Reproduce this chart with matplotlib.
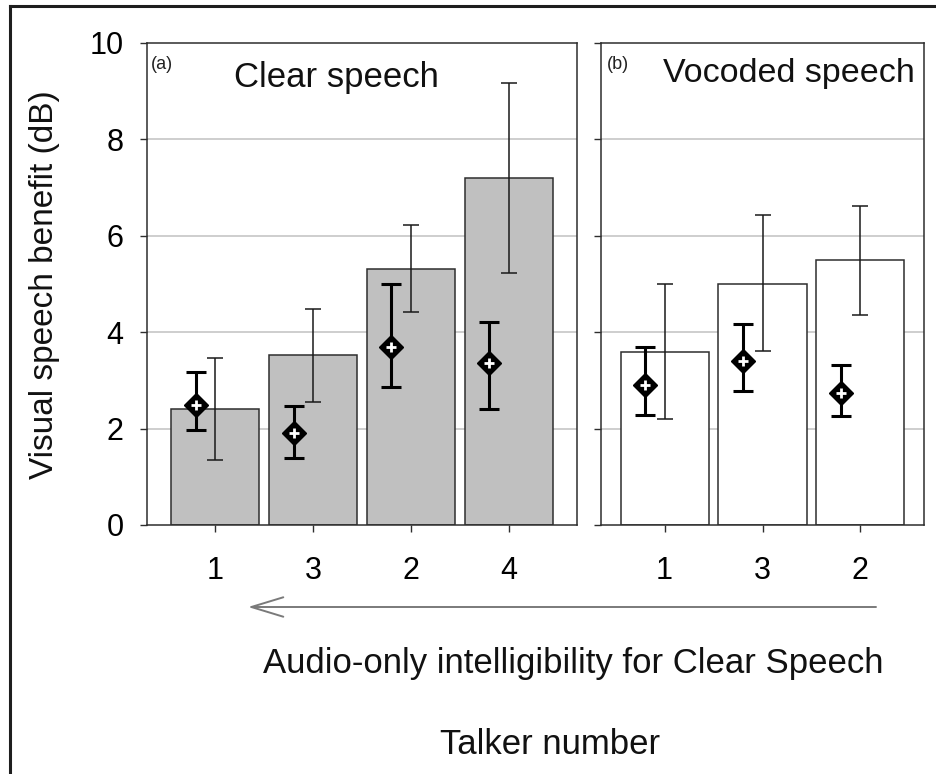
import matplotlib
matplotlib.use("Agg")
import matplotlib.pyplot as plt
from matplotlib.lines import Line2D
from matplotlib.patches import FancyArrowPatch
import numpy as np

plt.rcParams['font.family'] = ['Liberation Sans', 'DejaVu Sans']

# ---------------- data ----------------
clear_talkers = ['1', '3', '2', '4']
clear_bar = [2.40, 3.52, 5.32, 7.19]
clear_bar_lo = [1.34, 2.55, 4.41, 5.22]
clear_bar_hi = [3.46, 4.49, 6.22, 9.17]
clear_pt = [2.50, 1.90, 3.69, 3.37]
clear_pt_lo = [1.98, 1.40, 2.87, 2.41]
clear_pt_hi = [3.17, 2.46, 5.00, 4.21]

voc_talkers = ['1', '3', '2']
voc_bar = [3.59, 5.01, 5.49]
voc_bar_lo = [2.19, 3.61, 4.36]
voc_bar_hi = [5.01, 6.43, 6.62]
voc_pt = [2.90, 3.40, 2.74]
voc_pt_lo = [2.28, 2.78, 2.26]
voc_pt_hi = [3.69, 4.16, 3.31]

yticks = [0, 2, 4, 6, 8, 10]

W, H = 937, 774
fig = plt.figure(figsize=(W / 100, H / 100), dpi=100)


def fx(px):
    return px / W


def fy(py):
    return 1 - py / H


ax_top, ax_bot = 43, 525
axL = fig.add_axes([fx(147), fy(ax_bot), fx(577) - fx(147), (ax_bot - ax_top) / H])
axR = fig.add_axes([fx(601), fy(ax_bot), fx(924) - fx(601), (ax_bot - ax_top) / H])

dark = '#2e2e2e'
grid_c = '#c6c6c6'


def draw_panel(ax, labels, bar, blo, bhi, pt, plo, phi, face, xlim):
    x = np.arange(1, len(labels) + 1)
    ax.set_xlim(*xlim)
    ax.set_ylim(0, 10)
    for g in [2, 4, 6, 8]:
        ax.axhline(g, color=grid_c, lw=1.2, zorder=0)
    ax.bar(x, bar, width=0.9, color=face, edgecolor=dark, linewidth=1.1, zorder=2)
    bar = np.array(bar)
    ax.errorbar(x, bar, yerr=[bar - np.array(blo), np.array(bhi) - bar], fmt='none',
                ecolor='#1a1a1a', elinewidth=1.1, capsize=5.5, capthick=1.1, zorder=3)
    pt = np.array(pt)
    xp = x - 0.2
    ax.errorbar(xp, pt, yerr=[pt - np.array(plo), np.array(phi) - pt], fmt='none',
                ecolor='black', elinewidth=2.2, capsize=7, capthick=2.2, zorder=4)
    ax.plot(xp, pt, linestyle='none', marker='D', ms=12, mfc='black', mec='black',
            mew=1, zorder=5)
    ax.plot(xp, pt, linestyle='none', marker='+', ms=6.5, mec='white', mew=2.0, zorder=6)
    ax.set_xticks(x)
    ax.set_xticklabels(labels)
    ax.set_yticks(yticks)
    for s in ax.spines.values():
        s.set_color(dark)
        s.set_linewidth(1.1)
    ax.tick_params(direction='out', length=5, width=1.0, color=dark)
    ax.tick_params(axis='x', labelsize=22, pad=17.5)
    ax.tick_params(axis='y', labelsize=22, pad=12)


draw_panel(axL, clear_talkers, clear_bar, clear_bar_lo, clear_bar_hi,
           clear_pt, clear_pt_lo, clear_pt_hi, '#c0c0c0', (0.30, 4.70))
draw_panel(axR, voc_talkers, voc_bar, voc_bar_lo, voc_bar_hi,
           voc_pt, voc_pt_lo, voc_pt_hi, 'white', (0.35, 3.65))
axR.set_yticklabels([])

# panel labels
fig.text(fx(151), fy(69), '(a)', fontsize=13, va='baseline', ha='left', color='#222')
fig.text(fx(234), fy(87), 'Clear speech', fontsize=25, va='baseline', ha='left', color='#111')
fig.text(fx(607), fy(69), '(b)', fontsize=13, va='baseline', ha='left', color='#222')
fig.text(fx(663), fy(82), 'Vocoded speech', fontsize=24.5, va='baseline', ha='left', color='#111')

# y label
fig.text(fx(45), fy(285), 'Visual speech benefit (dB)', fontsize=24, rotation=90,
         ha='center', va='center', color='#111')

# arrow
arr = FancyArrowPatch((fx(876), fy(607)), (fx(248), fy(607)), transform=fig.transFigure,
                      arrowstyle='->,head_length=2.3,head_width=0.7', mutation_scale=10,
                      color='#7a7a7a', lw=1.4, shrinkA=0, shrinkB=0)
fig.add_artist(arr)

fig.text(fx(263), fy(673), 'Audio-only intelligibility for Clear Speech', fontsize=25,
         ha='left', va='baseline', color='#111')
fig.text(fx(440), fy(754), 'Talker number', fontsize=25, ha='left', va='baseline', color='#111')

# outer frame (top and left edges)
fig.add_artist(Line2D([fx(10), 1.0], [fy(6), fy(6)], transform=fig.transFigure,
                      color='#1e1e1e', lw=2.2))
fig.add_artist(Line2D([fx(10), fx(10)], [fy(6), 0.0], transform=fig.transFigure,
                      color='#1e1e1e', lw=2.2))

fig.savefig('out.png', dpi=100)
